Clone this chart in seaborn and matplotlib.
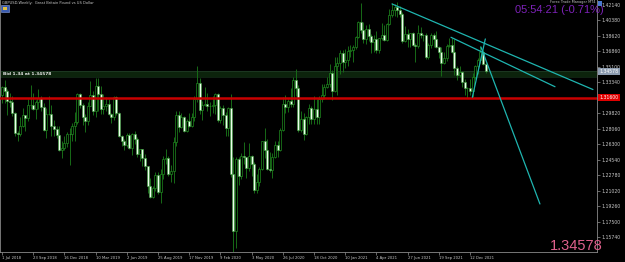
import matplotlib
matplotlib.use("Agg")
import matplotlib.pyplot as plt
import matplotlib.transforms as mtransforms
from matplotlib.patches import Rectangle
import numpy as np
import pandas as pd
import seaborn as sns

# ---------------- data (GBPUSD weekly) ----------------
opens = [1.3195, 1.3276, 1.3234, 1.3127, 1.3112, 1.2990, 1.2762, 1.2745, 1.2840, 1.2960,
         1.2923, 1.3071, 1.3072, 1.3033, 1.3115, 1.3155, 1.3050, 1.2797, 1.2971, 1.2976,
         1.2832, 1.2805, 1.2735, 1.2570, 1.2585, 1.2640, 1.2752, 1.2743, 1.2838, 1.2880,
         1.3203, 1.3078, 1.2940, 1.2900, 1.3070, 1.3190, 1.3010, 1.3290, 1.3205, 1.3030,
         1.3060, 1.3090, 1.2970, 1.2945, 1.3170, 1.2985, 1.2720, 1.2667, 1.2625, 1.2740,
         1.2590, 1.2745, 1.2695, 1.2520, 1.2575, 1.2475, 1.2378, 1.2150, 1.2030, 1.2135,
         1.2280, 1.2090, 1.2290, 1.2465, 1.2475, 1.2290, 1.2330, 1.2660, 1.2960, 1.2830,
         1.2935, 1.2775, 1.2900, 1.2840, 1.2935, 1.3150, 1.3330, 1.3020, 1.3075, 1.3085,
         1.3060, 1.3070, 1.3075, 1.3200, 1.2910, 1.3045, 1.2960, 1.2820, 1.3045, 1.2290,
         1.1640, 1.2460, 1.2265, 1.2500, 1.2480, 1.2365, 1.2495, 1.2405, 1.2105, 1.2200,
         1.2350, 1.2665, 1.2565, 1.2350, 1.2335, 1.2485, 1.2620, 1.2570, 1.2790, 1.3085,
         1.3055, 1.3120, 1.3090, 1.3355, 1.3275, 1.2795, 1.2915, 1.2750, 1.2940, 1.3045,
         1.2915, 1.3035, 1.2945, 1.3150, 1.3190, 1.3285, 1.3315, 1.3440, 1.3230, 1.3515,
         1.3555, 1.3670, 1.3565, 1.3585, 1.3685, 1.3705, 1.3735, 1.3850, 1.4015, 1.3925,
         1.3830, 1.3935, 1.3865, 1.3795, 1.3830, 1.3700, 1.3835, 1.3870, 1.3815, 1.3995,
         1.4095, 1.4155, 1.4190, 1.4160, 1.4110, 1.3805, 1.3880, 1.3825, 1.3890, 1.3760,
         1.3745, 1.3900, 1.3875, 1.3870, 1.3620, 1.3760, 1.3870, 1.3830, 1.3735, 1.3680,
         1.3555, 1.3615, 1.3750, 1.3760, 1.3680, 1.3500, 1.3415, 1.3455, 1.3340, 1.3265,
         1.3275, 1.3230, 1.3395, 1.3525, 1.3590, 1.3675, 1.3545]
highs = [1.3292, 1.3363, 1.3260, 1.3213, 1.3173, 1.2999, 1.2779, 1.2943, 1.3043, 1.2965,
         1.3144, 1.3298, 1.3216, 1.3134, 1.3257, 1.3175, 1.3096, 1.3046, 1.3175, 1.3072,
         1.2906, 1.2839, 1.2840, 1.2670, 1.2719, 1.2766, 1.2815, 1.2866, 1.3000, 1.3215,
         1.3218, 1.3100, 1.2971, 1.3109, 1.3350, 1.3240, 1.3380, 1.3380, 1.3290, 1.3197,
         1.3167, 1.3150, 1.2990, 1.3177, 1.3175, 1.3000, 1.2730, 1.2690, 1.2760, 1.2763,
         1.2760, 1.2784, 1.2710, 1.2580, 1.2580, 1.2520, 1.2380, 1.2250, 1.2150, 1.2310,
         1.2310, 1.2350, 1.2500, 1.2580, 1.2500, 1.2390, 1.2710, 1.3010, 1.3010, 1.2980,
         1.2955, 1.2920, 1.2985, 1.2980, 1.3180, 1.3515, 1.3385, 1.3125, 1.3285, 1.3215,
         1.3115, 1.3175, 1.3210, 1.3210, 1.3070, 1.3075, 1.3000, 1.3050, 1.3200, 1.2480,
         1.2485, 1.2485, 1.2530, 1.2650, 1.2490, 1.2645, 1.2510, 1.2430, 1.2295, 1.2370,
         1.2670, 1.2813, 1.2690, 1.2545, 1.2530, 1.2670, 1.2670, 1.2810, 1.3170, 1.3185,
         1.3140, 1.3270, 1.3395, 1.3485, 1.3300, 1.3005, 1.2980, 1.2955, 1.3085, 1.3065,
         1.3175, 1.3140, 1.3175, 1.3310, 1.3310, 1.3400, 1.3540, 1.3470, 1.3625, 1.3625,
         1.3705, 1.3705, 1.3710, 1.3745, 1.3760, 1.3760, 1.3865, 1.4035, 1.4241, 1.4015,
         1.3990, 1.4000, 1.3880, 1.3875, 1.3920, 1.3840, 1.4010, 1.3990, 1.4005, 1.4165,
         1.4235, 1.4220, 1.4250, 1.4200, 1.4135, 1.3975, 1.3935, 1.3900, 1.3910, 1.3785,
         1.3985, 1.3960, 1.3880, 1.3890, 1.3780, 1.3890, 1.3890, 1.3915, 1.3750, 1.3730,
         1.3675, 1.3775, 1.3835, 1.3835, 1.3825, 1.3515, 1.3515, 1.3460, 1.3375, 1.3285,
         1.3375, 1.3445, 1.3530, 1.3615, 1.3750, 1.3700, 1.3560]
lows = [1.3100, 1.3100, 1.2957, 1.3058, 1.2956, 1.2724, 1.2662, 1.2728, 1.2830, 1.2785,
        1.2900, 1.3030, 1.3019, 1.2922, 1.3030, 1.3003, 1.2775, 1.2696, 1.2963, 1.2723,
        1.2725, 1.2698, 1.2550, 1.2477, 1.2560, 1.2600, 1.2397, 1.2670, 1.2670, 1.2865,
        1.3038, 1.2852, 1.2773, 1.2853, 1.3067, 1.2960, 1.2945, 1.3003, 1.2977, 1.2977,
        1.3011, 1.2963, 1.2866, 1.2905, 1.2960, 1.2710, 1.2605, 1.2560, 1.2603, 1.2575,
        1.2505, 1.2630, 1.2480, 1.2438, 1.2382, 1.2334, 1.2080, 1.2015, 1.2015, 1.2100,
        1.2070, 1.1960, 1.2230, 1.2410, 1.2270, 1.2205, 1.2195, 1.2610, 1.2770, 1.2820,
        1.2765, 1.2770, 1.2823, 1.2825, 1.2895, 1.3110, 1.2975, 1.2905, 1.3060, 1.3010,
        1.2955, 1.2990, 1.2975, 1.2880, 1.2870, 1.2850, 1.2725, 1.2725, 1.2260, 1.1410,
        1.1445, 1.2165, 1.2230, 1.2410, 1.2250, 1.2325, 1.2265, 1.2075, 1.2075, 1.2160,
        1.2340, 1.2470, 1.2335, 1.2320, 1.2250, 1.2470, 1.2480, 1.2550, 1.2780, 1.2985,
        1.3000, 1.3050, 1.3055, 1.3175, 1.2765, 1.2765, 1.2675, 1.2730, 1.2860, 1.2865,
        1.2865, 1.2855, 1.2855, 1.3105, 1.3150, 1.3270, 1.3280, 1.3135, 1.3220, 1.3190,
        1.3430, 1.3450, 1.3500, 1.3520, 1.3625, 1.3565, 1.3710, 1.3840, 1.3890, 1.3780,
        1.3775, 1.3800, 1.3670, 1.3675, 1.3670, 1.3670, 1.3820, 1.3800, 1.3800, 1.3990,
        1.4075, 1.4085, 1.4080, 1.4075, 1.3785, 1.3790, 1.3735, 1.3735, 1.3745, 1.3570,
        1.3725, 1.3840, 1.3800, 1.3600, 1.3600, 1.3725, 1.3730, 1.3725, 1.3610, 1.3410,
        1.3540, 1.3575, 1.3740, 1.3670, 1.3420, 1.3355, 1.3395, 1.3280, 1.3195, 1.3160,
        1.3190, 1.3170, 1.3370, 1.3430, 1.3555, 1.3535, 1.3435]
closes = [1.3276, 1.3234, 1.3127, 1.3112, 1.2990, 1.2762, 1.2745, 1.2840, 1.2960, 1.2923,
          1.3071, 1.3072, 1.3033, 1.3115, 1.3155, 1.3050, 1.2797, 1.2971, 1.2976, 1.2832,
          1.2805, 1.2735, 1.2570, 1.2585, 1.2640, 1.2752, 1.2743, 1.2838, 1.2880, 1.3203,
          1.3078, 1.2940, 1.2900, 1.3070, 1.3190, 1.3010, 1.3290, 1.3205, 1.3030, 1.3060,
          1.3090, 1.2970, 1.2945, 1.3170, 1.2985, 1.2720, 1.2667, 1.2625, 1.2740, 1.2590,
          1.2745, 1.2695, 1.2520, 1.2575, 1.2475, 1.2378, 1.2150, 1.2030, 1.2135, 1.2280,
          1.2090, 1.2290, 1.2465, 1.2475, 1.2290, 1.2330, 1.2660, 1.2960, 1.2830, 1.2935,
          1.2775, 1.2900, 1.2840, 1.2935, 1.3150, 1.3330, 1.3020, 1.3075, 1.3085, 1.3060,
          1.3070, 1.3075, 1.3200, 1.2910, 1.3045, 1.2960, 1.2820, 1.3045, 1.2290, 1.1640,
          1.2460, 1.2265, 1.2500, 1.2480, 1.2365, 1.2495, 1.2405, 1.2105, 1.2200, 1.2350,
          1.2665, 1.2565, 1.2350, 1.2335, 1.2485, 1.2620, 1.2570, 1.2790, 1.3085, 1.3055,
          1.3120, 1.3090, 1.3355, 1.3275, 1.2795, 1.2915, 1.2750, 1.2940, 1.3045, 1.2915,
          1.3035, 1.2945, 1.3150, 1.3190, 1.3285, 1.3315, 1.3440, 1.3230, 1.3515, 1.3555,
          1.3670, 1.3565, 1.3585, 1.3685, 1.3705, 1.3735, 1.3850, 1.4015, 1.3925, 1.3830,
          1.3935, 1.3865, 1.3795, 1.3830, 1.3700, 1.3835, 1.3870, 1.3815, 1.3995, 1.4095,
          1.4155, 1.4190, 1.4160, 1.4110, 1.3805, 1.3880, 1.3825, 1.3890, 1.3760, 1.3745,
          1.3900, 1.3875, 1.3870, 1.3620, 1.3760, 1.3870, 1.3830, 1.3735, 1.3680, 1.3555,
          1.3615, 1.3750, 1.3760, 1.3680, 1.3500, 1.3415, 1.3455, 1.3340, 1.3265, 1.3275,
          1.3230, 1.3395, 1.3525, 1.3590, 1.3675, 1.3545, 1.34578]

date_labels = ["1 Jul 2018", "23 Sep 2018", "16 Dec 2018", "10 Mar 2019", "2 Jun 2019",
               "25 Aug 2019", "17 Nov 2019", "9 Feb 2020", "3 May 2020", "26 Jul 2020",
               "18 Oct 2020", "10 Jan 2021", "4 Apr 2021", "27 Jun 2021", "19 Sep 2021",
               "12 Dec 2021"]
date_label_bars = [0, 12, 24, 36, 48, 60, 72, 84, 96, 108, 120, 132, 144, 156, 168, 180]
price_ticks = [1.15740, 1.17500, 1.19260, 1.21020, 1.22780, 1.24540, 1.26300, 1.28060,
               1.29820, 1.31580, 1.33340, 1.35100, 1.36860, 1.38620, 1.40380, 1.42140]

# trend lines: (bar, price) pairs
trend_line = ["t1", "t1", "t2", "t2", "t3", "t3", "t4", "t4"]
trend_bar = [150.0, 227.3, 172.7, 212.7, 180.9, 185.9, 184.2, 206.9]
trend_price = [1.4225, 1.3252, 1.3846, 1.3284, 1.3164, 1.3827, 1.3736, 1.1951]

support_level = 1.3160
band_low, band_high = 1.3390, 1.3458
bid_price = 1.34578
timer_text = "05:54:21 (-0.71%)"
title_text = "GBPUSD,Weekly:  Great Britain Pound vs US Dollar"
ea_text = "Forex Trade Manager MT4"
band_text = "Bid 1.34 at 1.34578"

# ---------------- drawing ----------------
sns.set_theme(style="dark", rc={"axes.facecolor": "black", "figure.facecolor": "black"})
plt.rcParams["font.family"] = ["DejaVu Sans"]

W, H = 625, 262
fig = plt.figure(figsize=(W / 100, H / 100), dpi=100)
fig.patch.set_facecolor("black")
ax = fig.add_axes([0.0, 10 / H, 597 / W, 252 / H])
ax.set_facecolor("black")

df = pd.DataFrame({"o": opens, "h": highs, "l": lows, "c": closes})
df["i"] = np.arange(len(df))
bull = df[df["c"] >= df["o"]]
bear = df[df["c"] < df["o"]]

ax.axhspan(band_low, band_high, color="#0c230c", zorder=0.5, lw=0)
ax.axhline(band_high, color="#1e3a24", lw=0.6, zorder=0.6)
ax.axhline(band_low, color="#16301a", lw=0.5, zorder=0.6)

ax.vlines(df["i"], df["l"], df["h"], color="#176b17", lw=0.7, zorder=2)
ax.bar(bull["i"], bull["c"] - bull["o"], bottom=bull["o"], width=0.72,
       color="black", edgecolor="#1f8a1f", linewidth=0.5, zorder=3)
ax.bar(bear["i"], bear["o"] - bear["c"], bottom=bear["c"], width=0.72,
       color="#ecffec", edgecolor="#3aa03a", linewidth=0.4, zorder=3)

ax.axhline(support_level, color="#c80000", lw=1.8, zorder=4)

tdf = pd.DataFrame({"line": trend_line, "bar": trend_bar, "price": trend_price})
sns.lineplot(data=tdf, x="bar", y="price", units="line", estimator=None, sort=False,
             color="#1fb5b0", lw=0.9, ax=ax, legend=False, zorder=5)

ax.set_xlim(-0.77, 228.85)
ax.set_ylim(1.1405, 1.4270)
ax.set_xlabel("")
ax.set_ylabel("")
ax.grid(False)

ax.yaxis.tick_right()
ax.set_yticks(price_ticks)
# the tick label at the support level is hidden under the red price box
ax.set_yticklabels(["" if abs(v - support_level) < 0.004 else f"{v:.5f}" for v in price_ticks])
ax.tick_params(axis="y", which="both", right=True, left=False, length=2, width=0.5,
               color="#909090", labelsize=3.3, labelcolor="#c8c8c8", pad=1.5)
ax.set_xticks(date_label_bars)
ax.set_xticklabels(date_labels, ha="left")
ax.tick_params(axis="x", bottom=True, length=2, width=0.5, color="#909090",
               labelsize=2.7, labelcolor="#c8c8c8", pad=1)
for s in ["left", "right", "bottom"]:
    ax.spines[s].set_visible(True)
    ax.spines[s].set_color("#8a8a8a")
    ax.spines[s].set_linewidth(0.6)
ax.spines["top"].set_visible(False)

blend = mtransforms.blended_transform_factory(ax.transAxes, ax.transData)
ax.text(1.004, support_level, f"{support_level:.5f}", transform=blend, fontsize=3.3,
        color="white", va="center", ha="left", clip_on=False, zorder=10,
        bbox=dict(boxstyle="square,pad=0.25", fc="#e00000", ec="none"))
ax.text(1.004, bid_price, f"{bid_price:.5f}", transform=blend, fontsize=3.3,
        color="white", va="center", ha="left", clip_on=False, zorder=10,
        bbox=dict(boxstyle="square,pad=0.25", fc="#8c9cb0", ec="none"))

ax.text(0.005, (band_low + band_high) / 2, band_text, transform=blend, fontsize=3.2,
        color="#e8e8e8", va="center", ha="left", fontweight="bold", zorder=6)


def fx(x):
    return x / W


def fy(y):
    return 1 - y / H


fig.text(fx(2), fy(3.2), title_text, fontsize=2.6, color="#c8c8c8", va="center", ha="left")
fig.patches.append(Rectangle((fx(1), fy(11.5)), 8 / W, 7 / H, transform=fig.transFigure,
                             fc="#3a5cb0", ec="#8aa0e0", lw=0.4, zorder=10))
fig.patches.append(Rectangle((fx(3), fy(9.5)), 4 / W, 3 / H, transform=fig.transFigure,
                             fc="#e0c040", ec="none", zorder=11))

fig.text(fx(596), fy(2.2), ea_text, fontsize=2.5, color="#c0c0c0", va="center", ha="right")
fig.patches.append(Rectangle((fx(598), fy(6)), 4 / W, 5 / H, transform=fig.transFigure,
                             fc="#4a78d0", ec="none", zorder=10))
fig.text(fx(604), fy(9.6), timer_text, fontsize=8.0, family=["Liberation Sans"],
         color="#7d22b8", va="center", ha="right")
fig.text(fx(603), fy(246), f"{bid_price:.5f}", fontsize=10.5, family=["Liberation Sans"],
         color="#e0608c", va="center", ha="right")

fig.savefig("out.png", dpi=100, facecolor="black")
